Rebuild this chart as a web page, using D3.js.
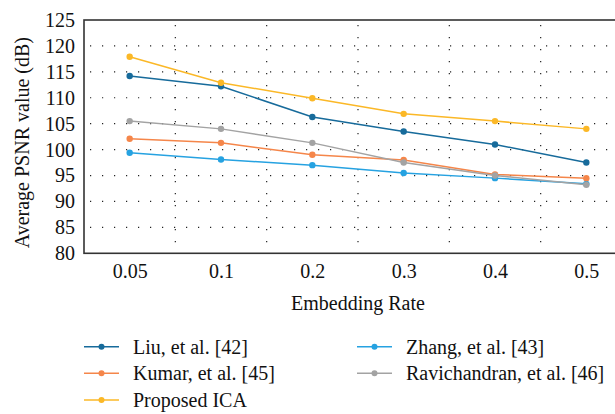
<!DOCTYPE html>
<html>
<head>
<meta charset="utf-8">
<script src="https://cdn.jsdelivr.net/npm/d3@7"></script>
<style>
  body { margin: 0; background: #fff; }
</style>
</head>
<body>
<div id="chart"></div>
<script>
const WIDTH = 615, HEIGHT = 414;
const LEFT = 84, TOP = 20, BOTTOM = 253.3, RIGHT = 632; // frame runs past the right edge
const FONT = '"Liberation Serif"';
const FS = 20;

const rates = ["0.05", "0.1", "0.2", "0.3", "0.4", "0.5"];
const yTicks = [80, 85, 90, 95, 100, 105, 110, 115, 120, 125];
const seriesNames = ["Liu, et al. [42]", "Zhang, et al. [43]", "Kumar, et al. [45]", "Ravichandran, et al. [46]", "Proposed ICA"];
const liu = [114.2, 112.2, 106.3, 103.5, 101.0, 97.5];
const zhang = [99.4, 98.1, 97.0, 95.5, 94.5, 93.4];
const kumar = [102.1, 101.3, 99.0, 98.0, 95.2, 94.5];
const ravi = [105.5, 104.0, 101.3, 97.5, 95.0, 93.2];
const proposed = [117.9, 112.9, 109.9, 106.9, 105.5, 104.0];
const colors = ["#176b9b", "#26a2e1", "#f5864a", "#a3a3a3", "#fbb827"];

const series = [liu, zhang, kumar, ravi, proposed].map((vals, i) => ({ name: seriesNames[i], values: vals, color: colors[i] }));

const svg = d3.select("#chart").append("svg")
    .attr("width", WIDTH)
    .attr("height", HEIGHT);

const x = d3.scalePoint().domain(rates).range([LEFT, RIGHT]).padding(0.5);
const y = d3.scaleLinear().domain([80, 125]).range([BOTTOM, TOP]);

// dotted grid
const step = x.step();
const grid = svg.append("g").attr("stroke", "#222").attr("stroke-width", 1.2).attr("stroke-dasharray", "1.2,10.8");
grid.selectAll("line.h").data(yTicks.slice(1, -1)).join("line")
    .attr("x1", LEFT + 6).attr("x2", RIGHT)
    .attr("y1", d => y(d)).attr("y2", d => y(d));
grid.selectAll("line.v").data(rates.slice(1)).join("line")
    .attr("x1", d => x(d) - step / 2).attr("x2", d => x(d) - step / 2)
    .attr("y1", TOP + 5).attr("y2", BOTTOM);

// frame
svg.append("rect")
    .attr("x", LEFT).attr("y", TOP)
    .attr("width", RIGHT - LEFT).attr("height", BOTTOM - TOP)
    .attr("fill", "none").attr("stroke", "#333").attr("stroke-width", 1.6);

// axes (labels only)
const yAxis = svg.append("g")
    .attr("transform", `translate(${LEFT},0)`)
    .call(d3.axisLeft(y).tickValues(yTicks).tickSize(0).tickPadding(9));
const xAxis = svg.append("g")
    .attr("transform", `translate(0,${BOTTOM})`)
    .call(d3.axisBottom(x).tickSize(0).tickPadding(11));
[yAxis, xAxis].forEach(a => {
    a.select(".domain").remove();
    a.selectAll("text").attr("font-size", FS).attr("fill", "#111")
        .style("font-family", FONT);
});

svg.append("text")
    .attr("x", (LEFT + RIGHT) / 2).attr("y", 310)
    .attr("text-anchor", "middle").attr("font-size", FS).attr("fill", "#111")
    .style("font-family", FONT)
    .text("Embedding Rate");

svg.append("text")
    .attr("transform", `translate(29,${(TOP + BOTTOM) / 2 + 6}) rotate(-90)`)
    .attr("text-anchor", "middle").attr("font-size", FS).attr("fill", "#111")
    .style("font-family", FONT)
    .text("Average PSNR value (dB)");

// lines + markers
const line = d3.line().x((d, i) => x(rates[i])).y(d => y(d));
const g = svg.append("g");
series.forEach(s => {
    g.append("path").datum(s.values)
        .attr("d", line).attr("fill", "none")
        .attr("stroke", s.color).attr("stroke-width", 1.5);
    g.selectAll(null).data(s.values).join("circle")
        .attr("cx", (d, i) => x(rates[i])).attr("cy", d => y(d))
        .attr("r", 3.2).attr("fill", s.color);
});

// legend: two columns, order Liu, Zhang / Kumar, Ravi / Proposed
const legendCols = [84, 357];
const legendRows = [346.7, 373.3, 400];
const legend = svg.append("g");
series.forEach((s, i) => {
    const lx = legendCols[i % 2], ly = legendRows[Math.floor(i / 2)];
    const item = legend.append("g").attr("transform", `translate(${lx},${ly})`);
    item.append("line").attr("x1", 0).attr("x2", 35).attr("stroke", s.color).attr("stroke-width", 1.5);
    item.append("circle").attr("cx", 17.5).attr("r", 3).attr("fill", s.color);
    item.append("text").attr("x", 49).attr("dy", "0.35em")
        .attr("font-size", FS).attr("fill", "#111")
        .style("font-family", FONT)
        .text(s.name);
});
</script>
</body>
</html>
